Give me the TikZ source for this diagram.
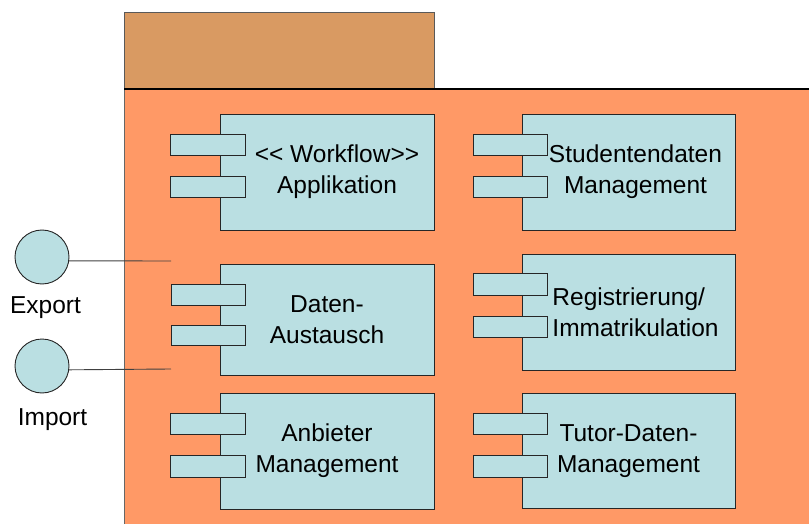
\documentclass[tikz,border=0pt]{standalone}
\usepackage{fontspec}
\setmainfont[Ligatures=TeXOff]{Liberation Sans}

\definecolor{tabbrown}{HTML}{D99A62}
\definecolor{pkgorange}{HTML}{FF9966}
\definecolor{compcyan}{HTML}{BADFE2}

\tikzset{
    compbox/.style={draw=black!85, fill=compcyan, line width=0.9pt, minimum width=214pt,
        minimum height=116pt, inner sep=0pt, align=center, font=\fontsize{24.5}{31}\selectfont},
    port/.style={draw=black!85, fill=compcyan, line width=0.9pt},
    iface/.style={circle, draw=black!85, fill=compcyan, line width=0.9pt, minimum size=54pt, inner sep=0pt},
    lbl/.style={anchor=base, font=\fontsize{24.5}{31}\selectfont},
}

\begin{document}
\begin{tikzpicture}[x=1pt, y=-1pt]
    \useasboundingbox (0,0) rectangle (809,524);

    % Paket
    \fill[pkgorange] (124,89) rectangle (815,530);
    \draw[black!60, line width=1pt] (124,530) -- (124,89);
    \draw[fill=tabbrown, draw=black!65, line width=1pt] (124,89) rectangle (434,13);
    \draw[line width=1.6pt] (124,89) -- (815,89);

    % linke Spalte
    \node[compbox] (workflow) at (327,172) {\hspace*{20pt}<< Workflow>>\\\hspace*{20pt}Applikation};
    \draw[port] (170,134) rectangle (245,155);
    \draw[port] (170,176) rectangle (245,197);

    \node[compbox, minimum height=111pt] (austausch) at (327,320) {Daten-\\Austausch};
    \draw[port] (171,284) rectangle (245,305);
    \draw[port] (171,325) rectangle (245,345);

    \node[compbox] (anbieter) at (327,451) {Anbieter\\Management};
    \draw[port] (170,413) rectangle (245,434);
    \draw[port] (170,455) rectangle (245,477);

    % rechte Spalte
    \node[compbox, minimum width=213pt] (studenten) at (628.5,172) {\hspace*{14pt}Studentendaten\\\hspace*{14pt}Management};
    \draw[port] (473,134) rectangle (547,155);
    \draw[port] (473,176) rectangle (547,197);

    \node[compbox, minimum width=213pt, align=left] (registrierung) at (628.5,312) {\hspace*{14pt}Registrierung/\\\hspace*{14pt}Immatrikulation};
    \draw[port] (473,273) rectangle (547,295);
    \draw[port] (473,316) rectangle (547,337);

    \node[compbox, minimum width=213pt, minimum height=115pt] (tutor) at (628.5,451) {Tutor-Daten-\\Management};
    \draw[port] (473,413) rectangle (547,434);
    \draw[port] (473,455) rectangle (547,477);

    % Schnittstellen
    \node[iface] (export) at (42,257) {};
    \node[lbl] (exportlbl) at (45.5,313) {Export};
    \coordinate (exportend) at (171,261);
    \draw[black!75, line width=0.9pt] (export.-8) -- (exportend);

    \node[iface] (import) at (42,366) {};
    \node[lbl] (importlbl) at (52.5,425) {Import};
    \coordinate (importend) at (171,369);
    \draw[black!75, line width=0.9pt] (import.-8) -- (importend);

\end{tikzpicture}
\end{document}
